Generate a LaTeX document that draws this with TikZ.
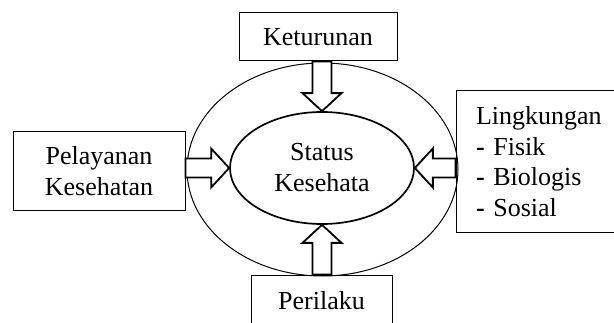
\documentclass[tikz,border=0pt]{standalone}
\usepackage{fontspec}
\setmainfont{Liberation Serif}
\usepackage{tikz}
\usetikzlibrary{shapes,calc,positioning}

% block arrow from one point to another
\newcommand{\blockarrow}[2]{%
	\draw[arrow_style] let \p1=(#1), \p2=(#2), \n1={atan2(\y2-\y1,\x2-\x1)}, \n2={veclen(\x2-\x1,\y2-\y1)} in
		[shift={(\p1)}, rotate=\n1] (0,-9.5) -- ({\n2-18},-9.5) -- ({\n2-18},-19.5) -- (\n2,0)
		-- ({\n2-18},19.5) -- ({\n2-18},9.5) -- (0,9.5) -- cycle;}

\begin{document}
\begin{tikzpicture}[x=1pt, y=1pt,
    box_style/.style={rectangle, draw=black, line width=1pt, font=\fontsize{26}{30.5}\selectfont, inner sep=0pt},
    ring_style/.style={ellipse, draw=black, line width=1pt, inner sep=0pt},
    core_style/.style={ellipse, draw=black, line width=1.7pt, fill=white, inner sep=0pt, align=center, font=\fontsize{26}{31}\selectfont},
    arrow_style/.style={draw=black, fill=white, line width=1.8pt, line join=miter}]

	\useasboundingbox (0,0) rectangle (614,322);
	\clip (0,0) rectangle (614,322);

	\node[ring_style, minimum width=271pt, minimum height=213pt] (ring) at (322.5, 152.5) {};
	\node[core_style, minimum width=184pt, minimum height=112pt] (stat) at (322, 154) {Status\\Kesehata};

	\node[box_style, minimum width=158pt, minimum height=48pt] (ket) at (318, 285) {Keturunan};
	\node[box_style, minimum width=172pt, minimum height=78pt, align=center] (pel) at (99, 151) {Pelayanan\\Kesehatan};
	\node[box_style, minimum width=184pt, minimum height=141pt, inner xsep=20pt, text width=144pt, align=left] (lin) at (548, 160.5)
		{Lingkungan\\\textbf{-} Fisik\\\textbf{-} Biologis\\\textbf{-} Sosial};
	\node[box_style, minimum width=141pt, minimum height=52pt] (per) at (321.5, 21) {Perilaku};

	\blockarrow{ket.south -| stat.north}{stat.north}
	\blockarrow{pel.east |- stat.west}{stat.west}
	\blockarrow{lin.west |- stat.east}{stat.east}
	\blockarrow{per.north -| stat.south}{stat.south}
\end{tikzpicture}
\end{document}
